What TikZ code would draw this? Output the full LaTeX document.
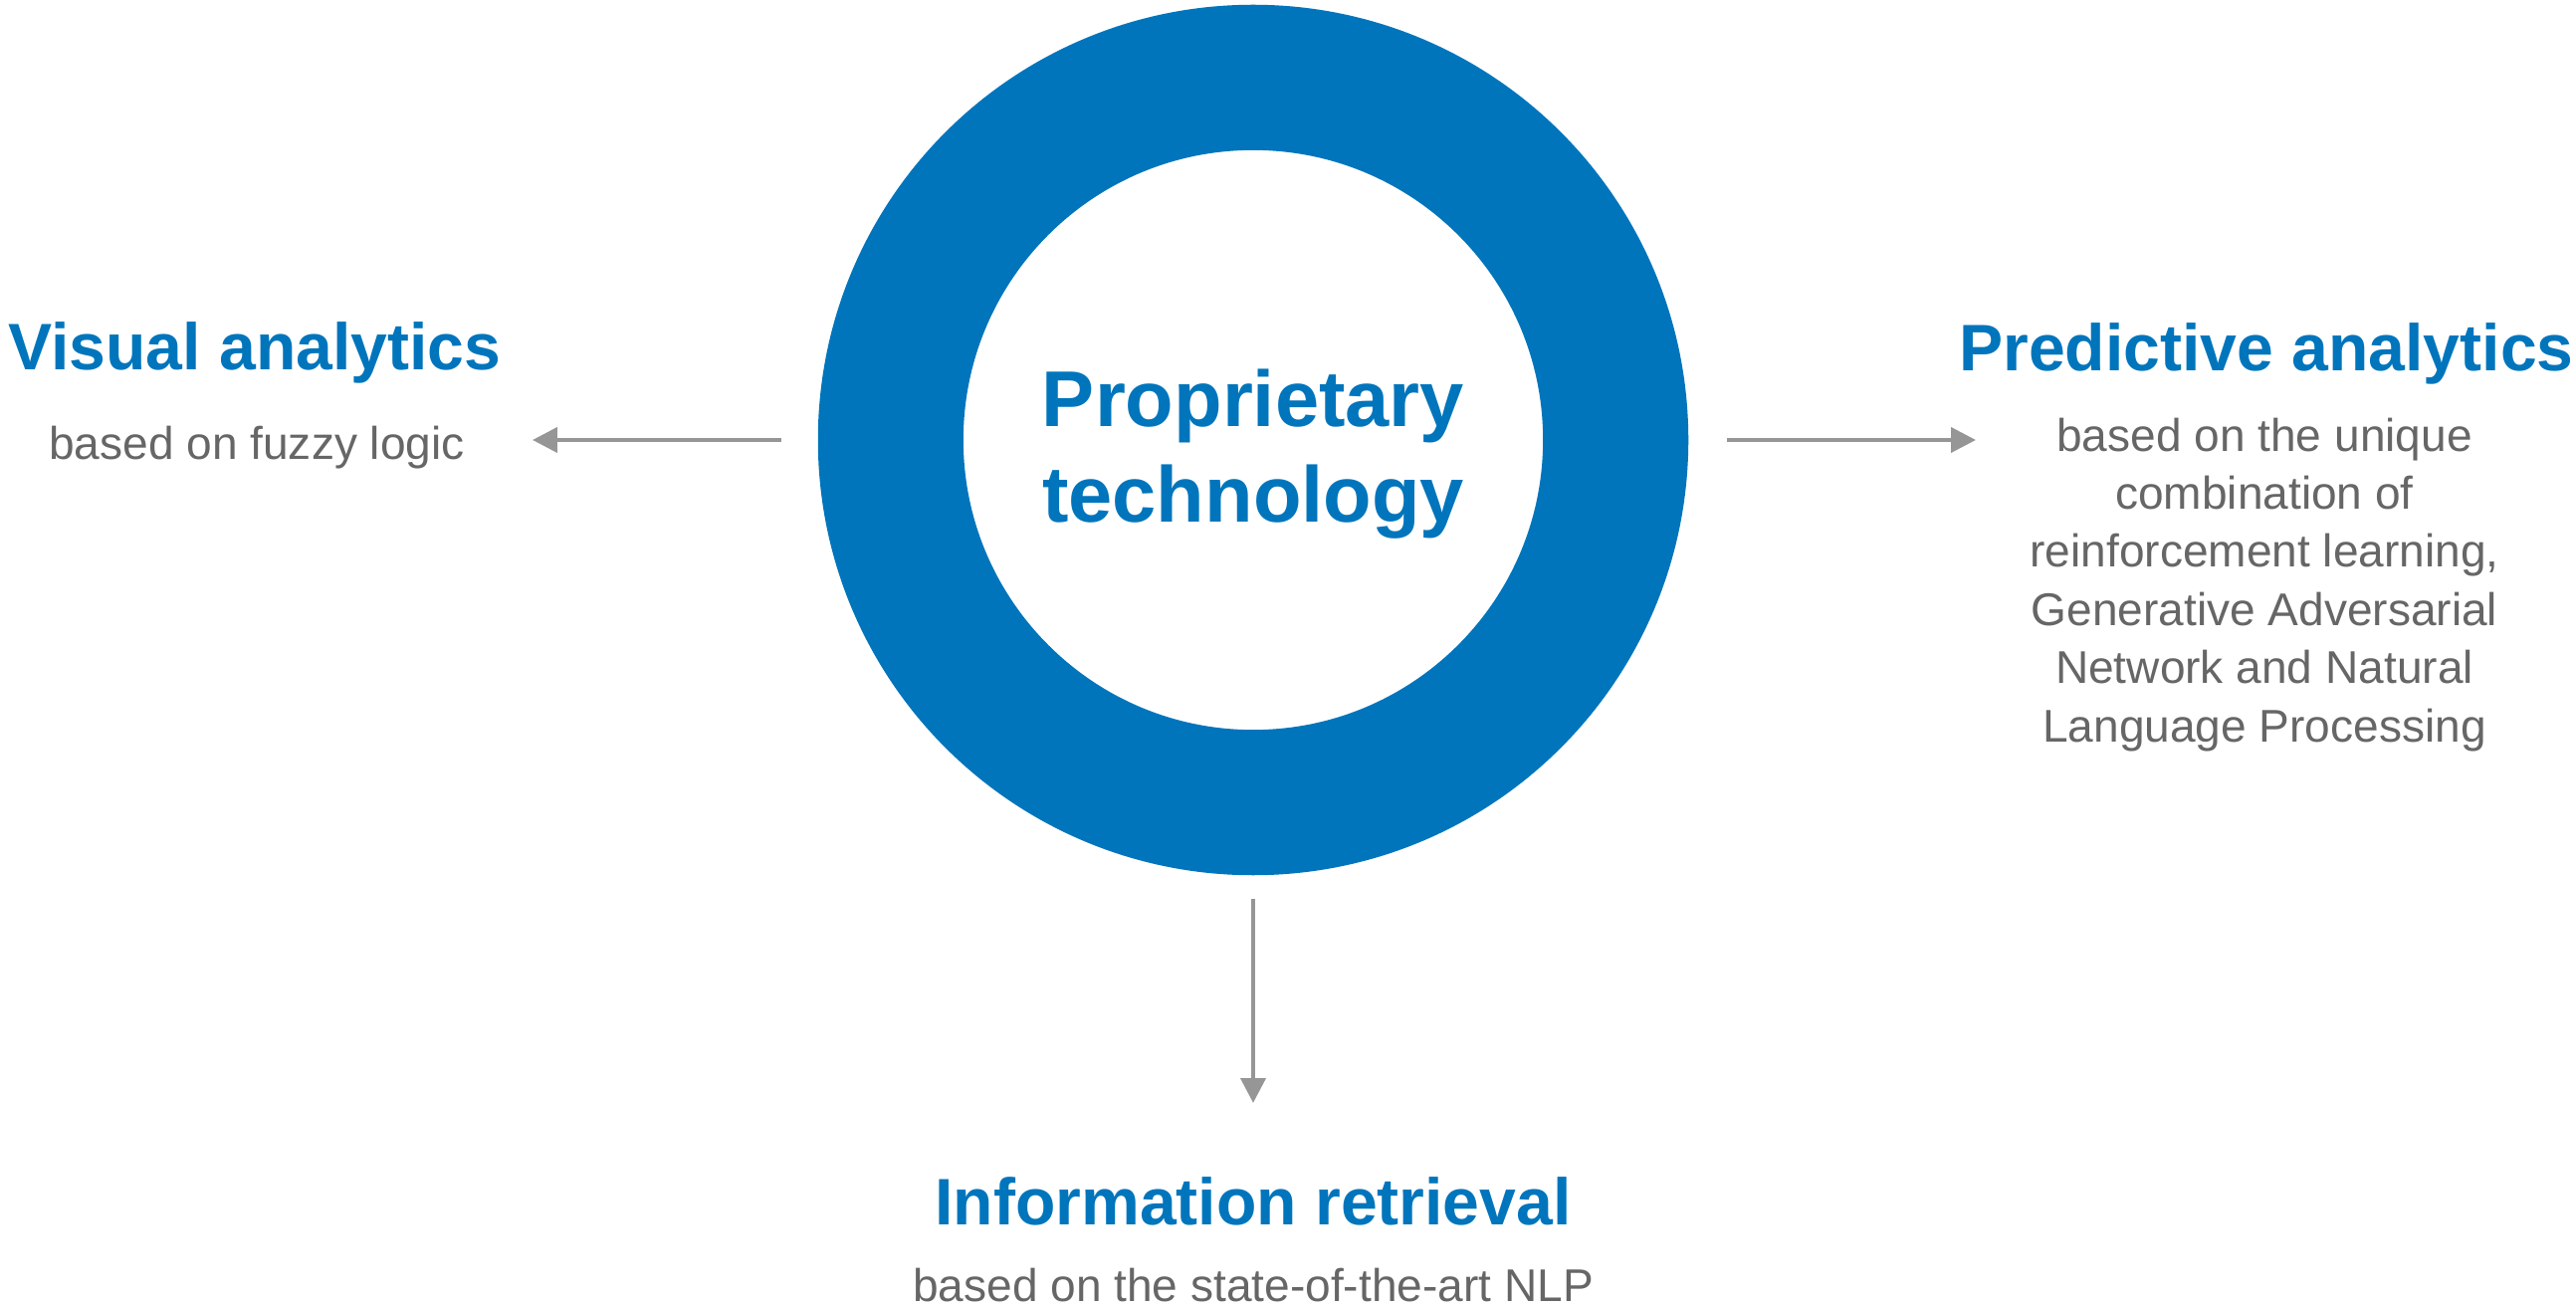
\documentclass[tikz,border=0pt]{standalone}
\usepackage{fontspec}
\setmainfont{Liberation Sans}
\usetikzlibrary{arrows.meta}
\definecolor{coreblue}{RGB}{0,117,188}
\definecolor{notegray}{RGB}{102,102,102}
\definecolor{arrowgray}{RGB}{150,150,150}

\begin{document}
\begin{tikzpicture}[x=0.01cm,y=-0.01cm,>={Triangle[length=7.1pt,width=7.1pt]},
    ring/.style={circle,draw=coreblue,line width=1.46cm,minimum size=7.28cm,
      inner sep=0pt,outer sep=0pt},
    corelabel/.style={anchor=base,text=coreblue,align=center,inner sep=0pt,
      font=\fontsize{22.6}{27.3}\selectfont\bfseries},
    head/.style={anchor=base,text=coreblue,inner sep=0pt,
      font=\fontsize{18.8}{22}\selectfont\bfseries},
    note/.style={anchor=base,text=notegray,align=center,inner sep=0pt,
      font=\fontsize{13.1}{16.6}\selectfont},
    link/.style={->,draw=arrowgray,line width=1.15pt}]
  \useasboundingbox (0,0) rectangle (2588,1313);
  % centre ring
  \node[ring] (core) at (1259,442) {};
  \node[corelabel] (coretext) at (1259,525) {Proprietary\\technology};
  % three outputs
  \node[head] (visual) at (256,372) {Visual analytics};
  \node[note] (visualnote) at (258,462) {based on fuzzy logic};
  \node[head] (predictive) at (2277,373) {Predictive analytics};
  \node[note] (predictivenote) at (2275,745) {based on the unique\\combination of\\reinforcement learning,\\Generative Adversarial\\Network and Natural\\Language Processing};
  \node[head] (retrieval) at (1259,1230) {Information retrieval};
  \node[note] (retrievalnote) at (1259,1307) {based on the state-of-the-art NLP};
  % arrow ends
  \coordinate (vatip) at (535,442);
  \coordinate (patip) at (1985,442);
  \coordinate (irtip) at (1259,1108);
  \draw[link,shorten <=1.1cm] (core.west) -- (vatip);
  \draw[link,shorten <=1.12cm] (core.east) -- (patip);
  \draw[link,shorten <=0.97cm] (core.south) -- (irtip);
\end{tikzpicture}
\end{document}
